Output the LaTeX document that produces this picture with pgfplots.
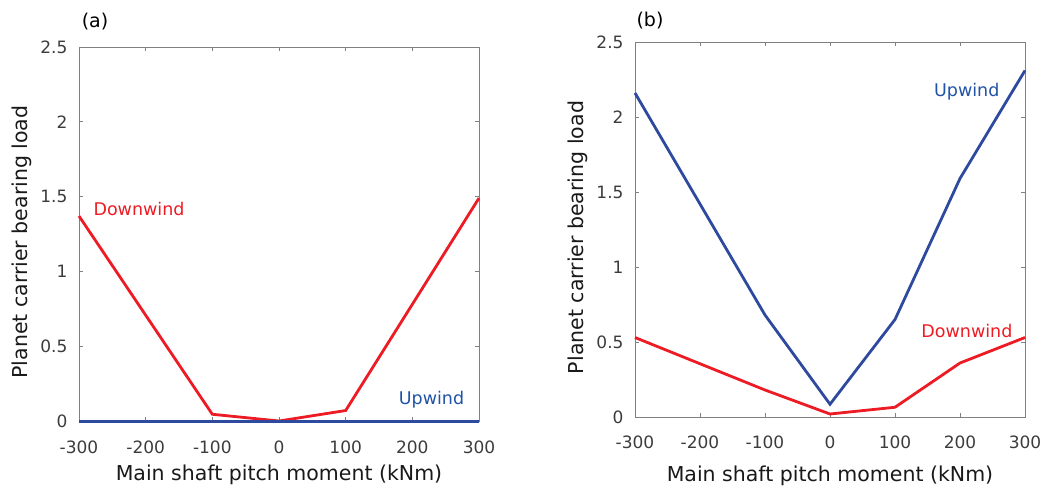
\documentclass[border=0pt]{standalone}
\usepackage{pgfplots}
\pgfplotsset{compat=1.18}
\usepackage{fontspec}
\setmainfont{DejaVu Sans}
\definecolor{lred}{RGB}{237,28,36}
\definecolor{lblue}{RGB}{46,74,158}
\definecolor{tblue}{RGB}{32,82,166}
\definecolor{tickgray}{RGB}{60,60,60}
\definecolor{axgray}{RGB}{128,128,128}
\pgfplotsset{
  myax/.style={
    anchor=south west, scale only axis,
    xmin=-300, xmax=300, ymin=0, ymax=2.5,
    xtick={-300,-200,-100,0,100,200,300},
    xticklabels={-300,-200,-100,0,100,200,300},
    ytick={0,0.5,1,1.5,2,2.5},
    yticklabels={0,0.5,1,1.5,2,2.5},
    tick align=inside, major tick length=4pt,
    axis line style={draw=axgray, line width=0.8pt},
    tick style={draw=axgray, line width=0.8pt},
    ticklabel style={font=\fontsize{17}{20}\selectfont, text=tickgray},
    yticklabel style={xshift=-8pt},
    label style={font=\fontsize{20.5}{24}\selectfont, text=black!90},
    xlabel={Main shaft pitch moment (kNm)},
    ylabel={Planet carrier bearing load},
    clip=false, axis on top=false,
  }
}
\begin{document}
\begin{tikzpicture}[x=1pt,y=1pt]
\useasboundingbox (0,0) rectangle (1057,488);
\begin{axis}[myax, at={(79pt,67pt)}, width=400pt, height=374pt, clip=false,
  xticklabel style={anchor=base, yshift=-32pt},
  xlabel style={at={(axis description cs:0.5,0)}, anchor=base, yshift=-59pt},
  ylabel style={at={(axis description cs:-0.1425,0.5)}, anchor=center, rotate=0, xshift=-8pt},
]
\addplot[lred, line width=2.8pt] coordinates {(-300,1.37) (-100,0.045) (0,0.0) (100,0.07) (300,1.49)};
\addplot[lblue, line width=3pt] coordinates {(-300,0) (-100,0) (0,0) (100,0) (200,0) (300,0)};
\node[anchor=west, text=lred, font=\fontsize{17.5}{20}\selectfont] at (axis cs:-283.5,1.42) {Downwind};
\node[anchor=east, text=tblue, font=\fontsize{17.5}{20}\selectfont] at (axis cs:283,0.14) {Upwind};
\node[anchor=center, font=\fontsize{19}{22}\selectfont] at ([yshift=25pt,xshift=16pt]axis description cs:0,1) {(a)};
\end{axis}
\begin{axis}[myax, at={(635pt,71pt)}, width=390pt, height=375pt, clip=false,
  xticklabel style={anchor=base, yshift=-31pt},
  xlabel style={at={(axis description cs:0.5,0)}, anchor=base, yshift=-64pt},
  ylabel style={at={(axis description cs:-0.146,0.5)}, anchor=center, rotate=0, xshift=-8pt},
]
\addplot[lblue, line width=2.8pt] coordinates {(-300,2.16) (-100,0.68) (0,0.085) (100,0.65) (200,1.59) (300,2.31)};
\addplot[lred, line width=2.8pt] coordinates {(-300,0.53) (-100,0.18) (0,0.02) (100,0.065) (200,0.36) (300,0.53)};
\node[anchor=east, text=tblue, font=\fontsize{17.5}{20}\selectfont] at (axis cs:266,2.17) {Upwind};
\node[anchor=east, text=lred, font=\fontsize{17.5}{20}\selectfont] at (axis cs:286,0.573) {Downwind};
\node[anchor=center, font=\fontsize{19}{22}\selectfont] at ([yshift=21pt,xshift=15pt]axis description cs:0,1) {(b)};
\end{axis}
\end{tikzpicture}
\end{document}
